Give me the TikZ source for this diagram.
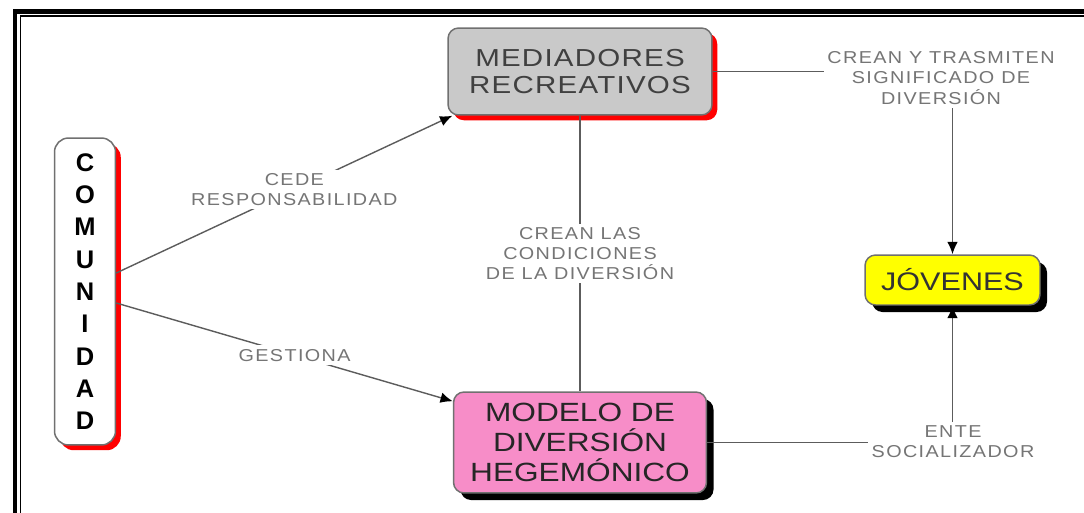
\documentclass[tikz,border=0pt]{standalone}
\usepackage{fontspec}
\setmainfont{Liberation Sans}
\newfontfamily\boxfont[FakeStretch=1.2]{Liberation Sans}
\newfontfamily\lblfont[FakeStretch=1.15,LetterSpace=8]{Liberation Sans}
\usetikzlibrary{arrows.meta,shadows}
\definecolor{lincol}{HTML}{5C5C5C}
\definecolor{bordcol}{HTML}{707070}
\definecolor{lblcol}{HTML}{757575}
\definecolor{medfill}{HTML}{C9C9C9}
\definecolor{modfill}{HTML}{F78DC8}
\definecolor{jovfill}{HTML}{FFFF00}

\begin{document}
\begin{tikzpicture}[x=0.02cm, y=-0.02cm,
  caja/.style={draw=bordcol, line width=0.85pt, rounded corners=6pt, align=center, inner sep=2pt},
  redshadow/.style={drop shadow={fill=red, opacity=1, shadow xshift=3pt, shadow yshift=-3pt}},
  blackshadow/.style={drop shadow={fill=black, opacity=1, shadow xshift=4pt, shadow yshift=-4pt}},
  conn/.style={draw=lincol, line width=0.8pt},
  tip/.style={-{Latex[length=7pt, width=6pt, color=black]}},
  lbl/.style={fill=white, text=lblcol, align=center, inner sep=2pt, font=\lblfont\fontsize{9.8}{11.5}\selectfont}]
\useasboundingbox (0,0) rectangle (1084,513);
% frame
\draw[line width=2.3pt] (15,530) -- (15,11.5) -- (1100,11.5);
\draw[line width=0.9pt] (20.7,530) -- (20.7,16) -- (1100,16);
% concepts
\draw node(com)[caja, redshadow, fill=white, rounded corners=8pt, minimum width=1.22cm, minimum height=6.14cm,
  font=\bfseries\fontsize{14.5}{18.4}\selectfont] at (85,291.5) {C\\O\\M\\U\\N\\I\\D\\A\\D};
\draw node(med)[caja, redshadow, fill=medfill, text=black!75, minimum width=5.28cm, minimum height=1.74cm,
  font=\boxfont\addfontfeature{LetterSpace=5}\fontsize{14}{15.5}\selectfont] at (580,71.5) {MEDIADORES\\RECREATIVOS};
\draw node(mod)[caja, blackshadow, fill=modfill, text=black!85, minimum width=5.06cm, minimum height=2.02cm,
  font=\boxfont\fontsize{15}{17}\selectfont] at (580,442.5) {MODELO DE\\DIVERSIÓN\\HEGEMÓNICO};
\draw node(jov)[caja, blackshadow, fill=jovfill, text=black!80, minimum width=3.5cm, minimum height=1cm,
  font=\boxfont\fontsize{14.5}{16}\selectfont] at (952.5,280) {JÓVENES};
% labels on the right
\draw node(trans)[lbl] at (941,78) {CREAN Y TRASMITEN\\SIGNIFICADO DE\\DIVERSIÓN};
\draw node(ente)[lbl] at (953,442) {ENTE\\SOCIALIZADOR};
% links
\draw[conn, tip] ([yshift=0.37cm]com.east) -- node[lbl, pos=0.53]{CEDE\\RESPONSABILIDAD} ([xshift=0.1cm]med.south west);
\draw[conn, tip] ([yshift=-0.23cm]com.east) -- node[lbl, pos=0.53]{GESTIONA} ([yshift=-0.2cm]mod.north west);
\draw[conn] (med) -- node[lbl]{CREAN LAS\\CONDICIONES\\DE LA DIVERSIÓN} (mod);
\draw[conn] (med) -- (med -| trans.west);
\draw[conn, tip] (trans.south -| jov.north) -- (jov.north);
\draw[conn] (mod) -- (mod -| ente.west);
\draw[conn, tip] (ente.north -| jov.south) -- (jov.south);
\end{tikzpicture}
\end{document}
